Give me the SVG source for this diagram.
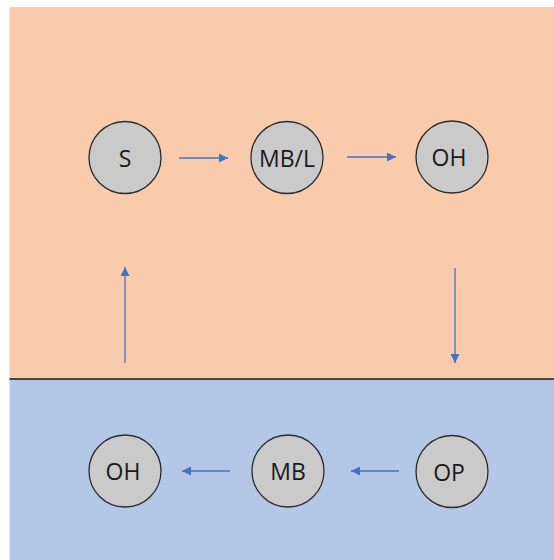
<svg xmlns="http://www.w3.org/2000/svg" width="554" height="560" viewBox="0 0 554 560">
  <style>
    .node circle { fill: #cacaca; stroke: #2b2b2b; stroke-width: 1.3; }
    .node text { font-family: "Open Sans", "Liberation Sans", sans-serif; font-size: 23px; fill: #1a1a1a; text-anchor: middle; dominant-baseline: central; }
    .conn line { stroke: #4472c4; stroke-width: 1.3; marker-end: url(#arrow); }
  </style>
  <defs>
    <marker id="arrow" viewBox="0 0 10 10" refX="10" refY="5" markerUnits="userSpaceOnUse" markerWidth="10" markerHeight="9" orient="auto">
      <path d="M0,0 L10,5 L0,10 z" fill="#4472c4"/>
    </marker>
  </defs>

  <!-- regions -->
  <rect x="0" y="0" width="554" height="560" fill="#ffffff"/>
  <rect x="9.5" y="7" width="544.5" height="372" fill="#f8cbad"/>
  <rect x="9.5" y="379" width="544.5" height="181" fill="#b4c7e7"/>
  <line x1="9.5" y1="379" x2="554" y2="379" stroke="#1a1a1a" stroke-width="1.5"/>

  <!-- connectors -->
  <g class="conn">
    <line x1="179" y1="158" x2="228" y2="158"/>
    <line x1="347" y1="157" x2="396" y2="157"/>
    <line x1="455" y1="268" x2="455" y2="363"/>
    <line x1="399" y1="471" x2="351" y2="471"/>
    <line x1="230" y1="471" x2="182" y2="471"/>
    <line x1="125" y1="363" x2="125" y2="267"/>
  </g>

  <!-- nodes -->
  <g id="node-s" class="node"><circle cx="125" cy="157.5" r="36"/><text x="125" y="157.5">S</text></g>
  <g id="node-mbl" class="node"><circle cx="287" cy="157.5" r="36"/><text x="287" y="157.5">MB/L</text></g>
  <g id="node-oh-top" class="node"><circle cx="452" cy="157" r="36"/><text x="449" y="157">OH</text></g>
  <g id="node-op" class="node"><circle cx="452" cy="471.5" r="36"/><text x="449" y="471.5">OP</text></g>
  <g id="node-mb" class="node"><circle cx="288" cy="471" r="36"/><text x="288" y="471">MB</text></g>
  <g id="node-oh-bottom" class="node"><circle cx="125" cy="471" r="36"/><text x="123" y="471">OH</text></g>
</svg>
